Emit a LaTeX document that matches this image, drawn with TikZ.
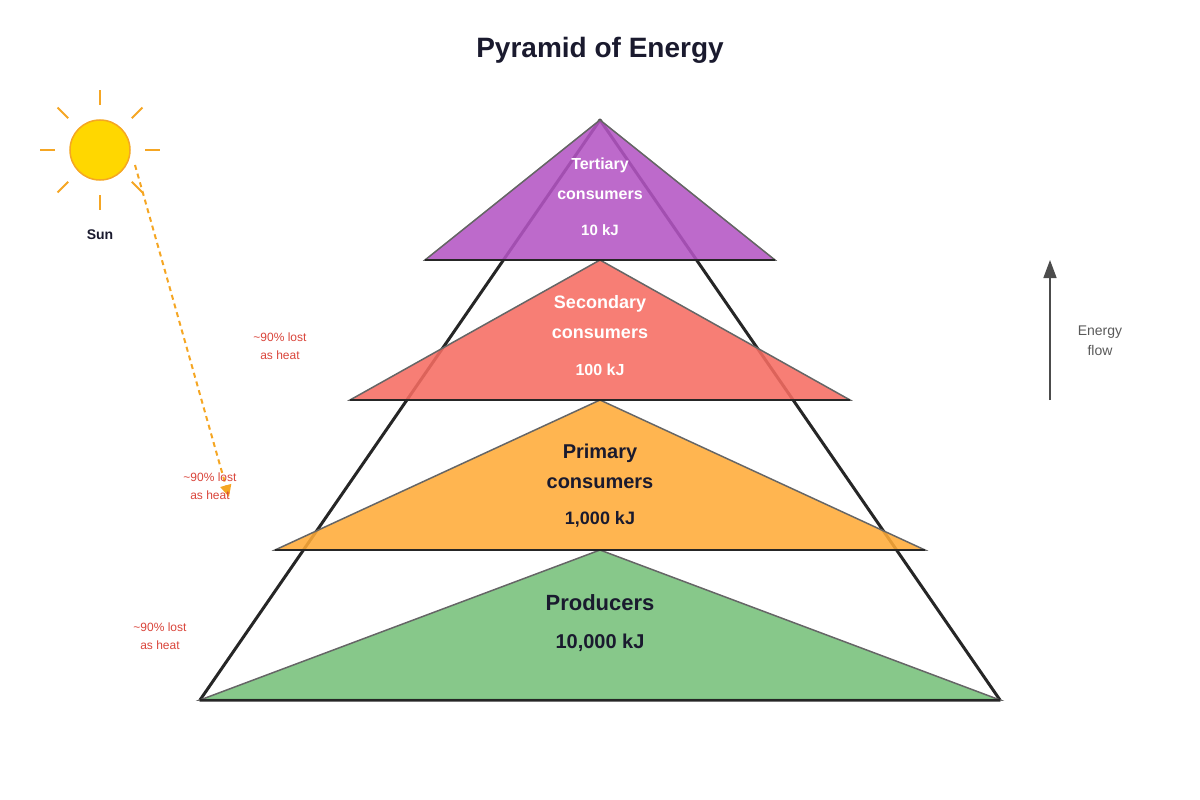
\documentclass[tikz,border=0pt]{standalone}
\usepackage{fontspec}
\setmainfont{Liberation Sans}
\usetikzlibrary{arrows.meta,calc}
\definecolor{navy}{HTML}{1A1A2E}
\definecolor{sunf}{HTML}{FFD700}
\definecolor{suns}{HTML}{F5A623}
\definecolor{lossc}{HTML}{D9443A}
\definecolor{grn}{HTML}{76C07A}
\definecolor{org}{HTML}{FFAB38}
\definecolor{red}{HTML}{F66C62}
\definecolor{pur}{HTML}{B455C4}
\begin{document}
\begin{tikzpicture}[x=1pt,y=-1pt,
 tier/.style={draw=black!60,line width=1.5pt,fill opacity=0.88},
 lbl/.style={font=\bfseries\fontsize{#1}{#1}\selectfont,align=center},
 loss/.style={text=lossc,font=\fontsize{12}{18}\selectfont,align=center},
 ray/.style={suns,line width=2pt}]
\useasboundingbox (0,0) rectangle (1200,800);
\node[lbl=28,text=navy] (title) at (600,50) {Pyramid of Energy};
% sun
\node[circle,draw=suns,fill=sunf,line width=1.5pt,minimum size=60pt,inner sep=0] (sun) at (100,150) {};
\foreach \a in {0,45,...,315}{\draw[ray] ($(sun.center)+(\a:45)$) -- ($(sun.center)+(\a:60)$);}
\node[lbl=14,text=navy] (sunl) at (100,235) {Sun};
\coordinate (s1) at (135,165); \coordinate (s2) at (229,497);
\draw[suns,line width=2pt,dash pattern=on 5pt off 4pt,-{Triangle[length=12pt,width=11pt]}] (s1) -- (s2);
% outline
\draw[black!85,line width=3pt,line join=round] (200,700) -- (600,120) -- (1000,700) -- cycle;
% tiers
\draw[tier,fill=grn] (200,700) -- (600,550) -- (1000,700) -- cycle;
\draw[tier,fill=org] (275,550) -- (600,400) -- (925,550) -- cycle;
\draw[tier,fill=red] (350,400) -- (600,260) -- (850,400) -- cycle;
\draw[tier,fill=pur] (425,260) -- (600,120) -- (775,260) -- cycle;
\foreach \y/\a/\b in {700/200/1000,550/275/925,400/350/850,260/425/775}{\draw[black!85,line width=2pt] (\a,\y) -- (\b,\y);}
% labels
\node[lbl=16,text=white] (t1) at (600,165) {Tertiary};
\node[lbl=16,text=white] (t2) at (600,195) {consumers};
\node[lbl=15,text=white] (t3) at (600,230) {10 kJ};
\node[lbl=18,text=white] (s1l) at (600,304) {Secondary};
\node[lbl=18,text=white] (s2l) at (600,334) {consumers};
\node[lbl=16,text=white] (s3l) at (600,370) {100 kJ};
\node[lbl=20,text=navy] (p1) at (600,453) {Primary};
\node[lbl=20,text=navy] (p2) at (600,483) {consumers};
\node[lbl=18,text=navy] (p3) at (600,519) {1,000 kJ};
\node[lbl=22,text=navy] (r1) at (600,603) {Producers};
\node[lbl=20,text=navy] (r2) at (600,643) {10,000 kJ};
\node[loss] (l1) at (280,346) {\textasciitilde90\% lost\\as heat};
\node[loss] (l2) at (210,486) {\textasciitilde90\% lost\\as heat};
\node[loss] (l3) at (160,636) {\textasciitilde90\% lost\\as heat};
% energy flow
\coordinate (e1) at (1050,400); \coordinate (e2) at (1050,260);
\draw[black!70,line width=1.5pt,-{Triangle[length=18pt,width=13pt]}] (e1) -- (e2);
\node[text=black!65,font=\fontsize{14}{20}\selectfont,align=center] (ef) at (1100,341) {Energy\\flow};
\end{tikzpicture}
\end{document}
